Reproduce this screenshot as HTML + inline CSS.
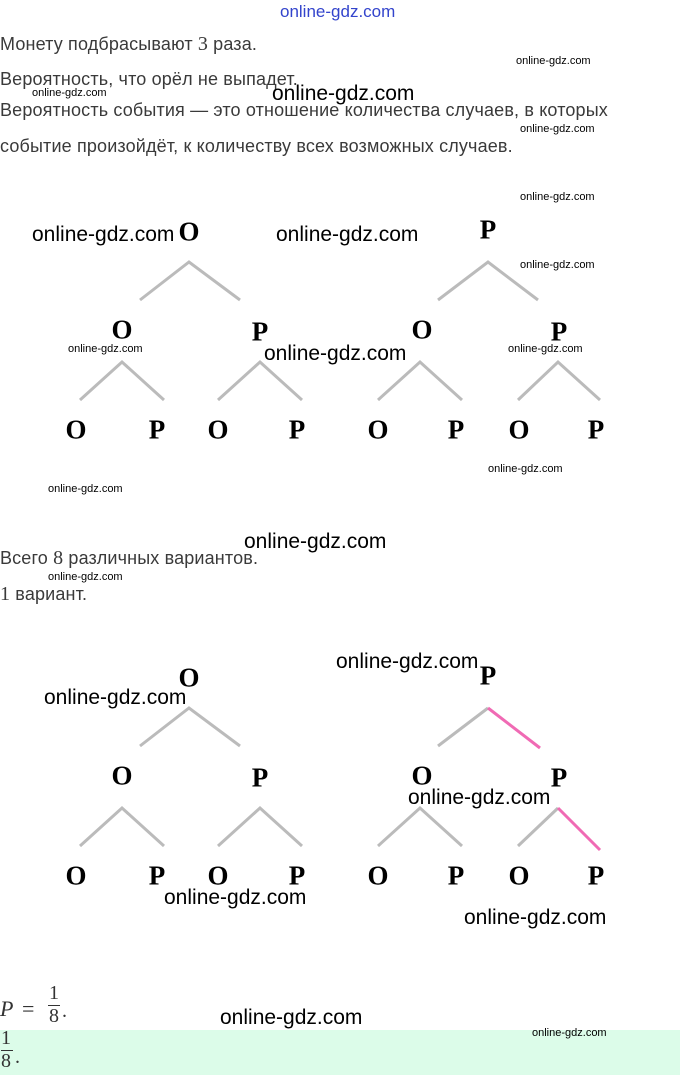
<!DOCTYPE html>
<html><head><meta charset="utf-8"><style>
body{margin:0;width:680px;height:1075px;position:relative;background:#fff;overflow:hidden;font-family:"Liberation Sans",sans-serif;color:#333}
.t{position:absolute;font-size:18px;white-space:nowrap;color:#3a3a3a;letter-spacing:0.15px}
.w{position:absolute;font-family:"Liberation Sans",sans-serif;color:#000;white-space:nowrap}
.s{font-size:11px}.b{font-size:21px}
.L{position:absolute;font-family:"Liberation Serif",serif;font-weight:bold;font-size:27px;color:#000;transform:translate(-50%,-50%)}
.m{font-family:"Liberation Serif",serif}
</style></head><body>
<div class="w" style="left:280px;top:2px;font-size:17px;color:#3344cc">online-gdz.com</div>
<div class="t" style="left:0;top:33px">Монету подбрасывают <span class="m" style="font-size:20px">3</span> раза.</div>
<div class="t" style="left:0;top:69px">Вероятность, что орёл не выпадет.</div>
<div class="t" style="left:0;top:100px">Вероятность события — это отношение количества случаев, в которых</div>
<div class="t" style="left:0;top:136px">событие произойдёт, к количеству всех возможных случаев.</div>
<div class="w s" style="left:516px;top:55px">online-gdz.com</div>
<div class="w s" style="left:32px;top:87px">online-gdz.com</div>
<div class="w b" style="left:272px;top:82px">online-gdz.com</div>
<div class="w s" style="left:520px;top:123px">online-gdz.com</div>
<div class="w s" style="left:520px;top:191px">online-gdz.com</div>
<div class="w b" style="left:32px;top:223px">online-gdz.com</div>
<div class="w b" style="left:276px;top:223px">online-gdz.com</div>
<div class="w s" style="left:520px;top:259px">online-gdz.com</div>
<div class="w s" style="left:68px;top:343px">online-gdz.com</div>
<div class="w b" style="left:264px;top:342px">online-gdz.com</div>
<div class="w s" style="left:508px;top:343px">online-gdz.com</div>
<div class="w s" style="left:488px;top:463px">online-gdz.com</div>
<div class="w s" style="left:48px;top:483px">online-gdz.com</div>
<div class="w b" style="left:244px;top:530px">online-gdz.com</div>
<div class="t" style="left:0;top:547px">Всего <span class="m" style="font-size:20px">8</span> различных вариантов.</div>
<div class="w s" style="left:48px;top:571px">online-gdz.com</div>
<div class="t" style="left:0;top:583px"><span class="m" style="font-size:20px">1</span> вариант.</div>
<div class="w b" style="left:336px;top:650px">online-gdz.com</div>
<div class="w b" style="left:44px;top:686px">online-gdz.com</div>
<div class="w b" style="left:408px;top:786px">online-gdz.com</div>
<div class="w b" style="left:164px;top:886px">online-gdz.com</div>
<div class="w b" style="left:464px;top:906px">online-gdz.com</div>

<svg style="position:absolute;left:0;top:0" width="680" height="1075">
<g stroke="#bbb" stroke-width="3" fill="none">
<polyline points="140,300 189,262 240,300"/><polyline points="438,300 488,262 538,300"/>
<polyline points="80,400 122,362 164,400"/><polyline points="218,400 260,362 302,400"/>
<polyline points="378,400 420,362 462,400"/><polyline points="518,400 558,362 600,400"/>
<g transform="translate(0,446)">
<polyline points="140,300 189,262 240,300"/><polyline points="438,300 488,262"/>
<polyline points="80,400 122,362 164,400"/><polyline points="218,400 260,362 302,400"/>
<polyline points="378,400 420,362 462,400"/><polyline points="518,400 558,362"/>
</g></g>
<g stroke="#f06ab4" stroke-width="3"><line x1="488" y1="708" x2="540" y2="748"/><line x1="558" y1="808" x2="600" y2="850"/></g>
</svg>

<div class="L" style="left:189px;top:232px">O</div><div class="L" style="left:488px;top:230px">P</div>
<div class="L" style="left:122px;top:330px">O</div><div class="L" style="left:260px;top:332px">P</div>
<div class="L" style="left:422px;top:330px">O</div><div class="L" style="left:559px;top:332px">P</div>
<div class="L" style="left:76px;top:430px">O</div><div class="L" style="left:157px;top:430px">P</div>
<div class="L" style="left:218px;top:430px">O</div><div class="L" style="left:297px;top:430px">P</div>
<div class="L" style="left:378px;top:430px">O</div><div class="L" style="left:456px;top:430px">P</div>
<div class="L" style="left:519px;top:430px">O</div><div class="L" style="left:596px;top:430px">P</div>

<div class="L" style="left:189px;top:678px">O</div><div class="L" style="left:488px;top:676px">P</div>
<div class="L" style="left:122px;top:776px">O</div><div class="L" style="left:260px;top:778px">P</div>
<div class="L" style="left:422px;top:776px">O</div><div class="L" style="left:559px;top:778px">P</div>
<div class="L" style="left:76px;top:876px">O</div><div class="L" style="left:157px;top:876px">P</div>
<div class="L" style="left:218px;top:876px">O</div><div class="L" style="left:297px;top:876px">P</div>
<div class="L" style="left:378px;top:876px">O</div><div class="L" style="left:456px;top:876px">P</div>
<div class="L" style="left:519px;top:876px">O</div><div class="L" style="left:596px;top:876px">P</div>

<div style="position:absolute;left:0;top:1030px;width:680px;height:45px;background:#dcfce9"></div>
<div class="m" style="position:absolute;left:0;top:996px;font-size:22px;font-style:italic;color:#333">P</div>
<div class="m" style="position:absolute;left:22px;top:996px;font-size:22px;color:#333">=</div>
<div class="m" style="position:absolute;left:48px;top:984px;font-size:20px;color:#333;text-align:center;line-height:19px">1<div style="border-top:1px solid #333;width:12px;margin:2px 0 1px"></div>8</div>
<div class="m" style="position:absolute;left:62px;top:1000px;font-size:20px;color:#333">.</div>
<div class="w b" style="left:220px;top:1006px">online-gdz.com</div>
<div class="w s" style="left:532px;top:1027px">online-gdz.com</div>
<div class="m" style="position:absolute;left:1px;top:1029px;font-size:20px;color:#333;line-height:19px">1<div style="border-top:1px solid #333;width:12px;margin:2px 0 1px"></div>8</div>
<div class="m" style="position:absolute;left:15px;top:1046px;font-size:20px;color:#333">.</div>
</body></html>
